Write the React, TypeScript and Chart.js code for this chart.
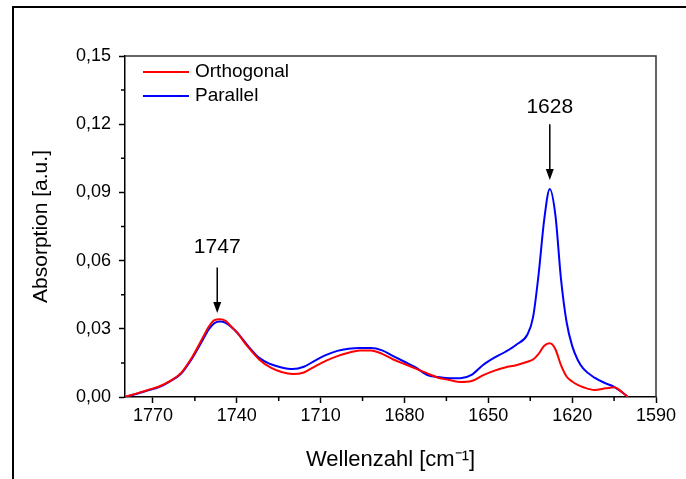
import React, { useEffect, useRef } from 'react';
import { Chart, registerables } from 'chart.js';

Chart.register(...registerables);

// ---- data ----
const wavenumbers = [
  1780, 1776, 1772, 1768, 1764, 1760, 1756, 1752, 1750, 1748, 1746, 1744, 1742, 1740,
  1736, 1732, 1728, 1724, 1720, 1716, 1712, 1708, 1704, 1700, 1696, 1692, 1688, 1684,
  1680, 1676, 1672, 1668, 1664, 1660, 1656, 1652, 1648, 1644, 1640, 1636, 1634, 1632,
  1630, 1628, 1626, 1624, 1622, 1620, 1618, 1616, 1612, 1608, 1605, 1602, 1600,
];

const orthogonal = [
  0, 0.0015, 0.003, 0.0045, 0.007, 0.0105, 0.0175, 0.0265, 0.031, 0.0338, 0.0342, 0.0335, 0.031, 0.0285,
  0.022, 0.0165, 0.013, 0.011, 0.0101, 0.0108, 0.0135, 0.016, 0.018, 0.0195, 0.0205, 0.0205, 0.019, 0.0165,
  0.0145, 0.0125, 0.0105, 0.0085, 0.0075, 0.0066, 0.007, 0.0095, 0.0115, 0.013, 0.014, 0.0155, 0.0165, 0.019,
  0.0225, 0.0236, 0.021, 0.014, 0.009, 0.0068, 0.0053, 0.0043, 0.0031, 0.0038, 0.0043, 0.002, 0,
];

const parallel = [
  0, 0.0013, 0.0028, 0.0043, 0.0068, 0.0102, 0.017, 0.0255, 0.0298, 0.0325, 0.0332, 0.0326, 0.0308, 0.0285,
  0.0225, 0.0172, 0.0145, 0.013, 0.0123, 0.0133, 0.016, 0.0185, 0.0203, 0.0212, 0.0215, 0.0215, 0.0205, 0.018,
  0.0155, 0.013, 0.0098, 0.0088, 0.0083, 0.0082, 0.0097, 0.014, 0.0172, 0.0198, 0.023, 0.0275, 0.035, 0.054,
  0.078, 0.0915, 0.08, 0.052, 0.033, 0.0225, 0.0163, 0.0125, 0.0085, 0.006, 0.0045, 0.002, 0,
];

const seriesLabels = ['Orthogonal', 'Parallel'];
const xTicks = [1770, 1740, 1710, 1680, 1650, 1620, 1590];
const xMinorTicks = [1755, 1725, 1695, 1665, 1635, 1605];
const yTicks = [0, 0.03, 0.06, 0.09, 0.12, 0.15];
const yMinorTicks = [0.015, 0.045, 0.075, 0.105, 0.135];

const peakPositions = [1747, 1628];
const peakLabels = ['1747', '1628'];
const arrowTipValues = [0.037, 0.0955];
const arrowTailValues = [0.057, 0.12];
const labelValues = [0.066, 0.1276];

const FONT = '"Liberation Sans", Arial, sans-serif';

const decorPlugin = {
  id: 'decor',
  afterDraw(chart: any) {
    const { ctx, chartArea } = chart;
    const xs = chart.scales.x;
    const ys = chart.scales.y;
    ctx.save();
    // top and right plot box lines
    ctx.strokeStyle = '#333';
    ctx.lineWidth = 1.5;
    ctx.beginPath();
    ctx.moveTo(chartArea.left, chartArea.top);
    ctx.lineTo(chartArea.right, chartArea.top);
    ctx.lineTo(chartArea.right, chartArea.bottom);
    ctx.stroke();

    // minor ticks
    ctx.strokeStyle = '#000';
    ctx.beginPath();
    xMinorTicks.forEach((v) => {
      const px = xs.getPixelForValue(v);
      ctx.moveTo(px, chartArea.bottom);
      ctx.lineTo(px, chartArea.bottom + 4);
    });
    yMinorTicks.forEach((v) => {
      const py = ys.getPixelForValue(v);
      ctx.moveTo(chartArea.left - 4, py);
      ctx.lineTo(chartArea.left, py);
    });
    ctx.stroke();

    // legend inside plot
    const datasets = chart.data.datasets;
    ctx.font = `19px ${FONT}`;
    ctx.textBaseline = 'middle';
    ctx.textAlign = 'left';
    datasets.forEach((ds: any, i: number) => {
      const y = chartArea.top + 16 + i * 24;
      ctx.strokeStyle = ds.borderColor;
      ctx.lineWidth = 2;
      ctx.beginPath();
      ctx.moveTo(chartArea.left + 18, y);
      ctx.lineTo(chartArea.left + 64, y);
      ctx.stroke();
      ctx.fillStyle = '#000';
      ctx.fillText(ds.label, chartArea.left + 70, y);
    });

    // peak annotations
    ctx.fillStyle = '#000';
    ctx.strokeStyle = '#000';
    ctx.lineWidth = 1.5;
    ctx.font = `21px ${FONT}`;
    ctx.textAlign = 'center';
    peakPositions.forEach((p, i) => {
      const px = xs.getPixelForValue(p);
      const tip = ys.getPixelForValue(arrowTipValues[i]);
      const tail = ys.getPixelForValue(arrowTailValues[i]);
      const ty = ys.getPixelForValue(labelValues[i]);
      ctx.beginPath();
      ctx.moveTo(px, tail);
      ctx.lineTo(px, tip - 8);
      ctx.stroke();
      ctx.beginPath();
      ctx.moveTo(px - 4, tip - 11);
      ctx.lineTo(px + 4, tip - 11);
      ctx.lineTo(px, tip);
      ctx.closePath();
      ctx.fill();
      ctx.fillText(peakLabels[i], px, ty);
    });
    ctx.restore();
  },
};

const frameStyle: React.CSSProperties = {
  position: 'fixed',
  left: 0,
  top: 0,
  width: 686,
  height: 479,
  background: '#fff',
};

export default function App() {
  const canvasRef = useRef<HTMLCanvasElement | null>(null);

  useEffect(() => {
    const canvas = canvasRef.current;
    if (!canvas) return;
    const chart = new Chart(canvas, {
      type: 'line',
      data: {
        datasets: [
          {
            label: seriesLabels[0],
            data: wavenumbers.map((w, i) => ({ x: w, y: orthogonal[i] })),
            borderColor: '#ff0000',
            borderWidth: 2,
            pointRadius: 0,
            cubicInterpolationMode: 'monotone',
          },
          {
            label: seriesLabels[1],
            data: wavenumbers.map((w, i) => ({ x: w, y: parallel[i] })),
            borderColor: '#0000ff',
            borderWidth: 2,
            pointRadius: 0,
            cubicInterpolationMode: 'monotone',
          },
        ],
      },
      options: {
        animation: false,
        responsive: false,
        events: [],
        layout: { padding: { top: 56, right: 30, left: 0, bottom: 0 } },
        plugins: { legend: { display: false }, tooltip: { enabled: false } },
        scales: {
          x: {
            type: 'linear',
            min: 1590,
            max: 1780,
            reverse: true,
            afterBuildTicks: (s: any) => {
              s.ticks = xTicks.map((v) => ({ value: v }));
            },
            afterFit: (s: any) => {
              s.height = 82;
            },
            grid: { drawOnChartArea: false, drawTicks: true, tickLength: 6, tickColor: '#000', tickWidth: 1.5 },
            border: { color: '#000', width: 1.5 },
            ticks: {
              padding: 2,
              color: '#000',
              font: { family: FONT, size: 18 },
              callback: (v: any) => String(v),
            },
            title: {
              display: true,
              text: 'Wellenzahl [cm⁻¹]',
              color: '#000',
              font: { family: FONT, size: 22 },
              padding: { top: 0, bottom: 6 },
            },
          },
          y: {
            type: 'linear',
            min: 0,
            max: 0.15,
            afterBuildTicks: (s: any) => {
              s.ticks = yTicks.map((v) => ({ value: v }));
            },
            afterFit: (s: any) => {
              s.width = 125;
            },
            grid: { drawOnChartArea: false, drawTicks: true, tickLength: 6, tickColor: '#000', tickWidth: 1.5 },
            border: { color: '#000', width: 1.5 },
            ticks: {
              padding: 8,
              color: '#000',
              font: { family: FONT, size: 18 },
              callback: (v: any) => Number(v).toFixed(2).replace('.', ','),
            },
            title: {
              display: true,
              text: 'Absorption [a.u.]',
              color: '#000',
              font: { family: FONT, size: 21 },
              padding: { top: 29, bottom: 0 },
            },
          },
        },
      } as any,
      plugins: [decorPlugin],
    });
    return () => chart.destroy();
  }, []);

  return (
    <div style={frameStyle}>
      <div
        style={{
          position: 'absolute',
          left: 12,
          top: 6,
          width: 686,
          height: 479,
          borderLeft: '2px solid #000',
          borderTop: '2px solid #000',
          boxSizing: 'border-box',
        }}
      />
      <canvas
        ref={canvasRef}
        width={686}
        height={479}
        style={{ position: 'absolute', left: 0, top: 0, width: 686, height: 479 }}
      />
    </div>
  );
}
